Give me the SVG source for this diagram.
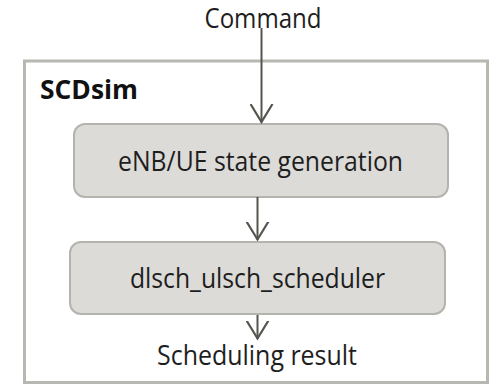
<svg xmlns="http://www.w3.org/2000/svg" width="489" height="384" viewBox="0 0 489 384">
  <style>
    .frame { fill: #ffffff; stroke: #b8b7b2; stroke-width: 3; }
    .block { fill: #dcdbd7; stroke: #b4b3ae; stroke-width: 2; }
    .label { font-family: "Open Sans", "Liberation Sans", sans-serif; font-size: 26.5px; fill: #1e1e1e; }
    .title { font-family: "Open Sans", "Liberation Sans", sans-serif; font-size: 27px; font-weight: bold; fill: #111111; }
    .flow { fill: none; stroke: #55554f; stroke-width: 2; }
  </style>
  <defs>
    <marker id="vee" viewBox="0 0 20 24" refX="18.5" refY="12" markerWidth="20" markerHeight="24" markerUnits="userSpaceOnUse" orient="auto">
      <path d="M0 1 L18 12 L0 23" fill="none" stroke="#55554f" stroke-width="2.2"/>
    </marker>
  </defs>

  <g id="scdsim">
    <rect class="frame" x="24.5" y="61" width="463" height="321.5"/>
    <text class="title" x="40" y="99" textLength="98" lengthAdjust="spacingAndGlyphs">SCDsim</text>
  </g>

  <g id="state-generation">
    <rect class="block" x="74" y="124" width="374" height="73" rx="11"/>
    <text class="label" x="260.5" y="171" text-anchor="middle" textLength="285" lengthAdjust="spacingAndGlyphs">eNB/UE state generation</text>
  </g>

  <g id="scheduler">
    <rect class="block" x="70" y="242" width="375" height="72" rx="11"/>
    <text class="label" x="257.5" y="288" text-anchor="middle" textLength="255" lengthAdjust="spacingAndGlyphs">dlsch_ulsch_scheduler</text>
  </g>

  <g id="command">
    <text class="label" x="263" y="28" text-anchor="middle" textLength="117" lengthAdjust="spacingAndGlyphs">Command</text>
  </g>

  <g id="result">
    <text class="label" x="257" y="365" text-anchor="middle" textLength="200" lengthAdjust="spacingAndGlyphs">Scheduling result</text>
  </g>

  <g id="connectors">
    <path class="flow" d="M261.5 28 V122.5" marker-end="url(#vee)"/>
    <path class="flow" d="M257.5 197 V240" marker-end="url(#vee)"/>
    <path class="flow" d="M257.5 315 V339" marker-end="url(#vee)"/>
  </g>
</svg>
